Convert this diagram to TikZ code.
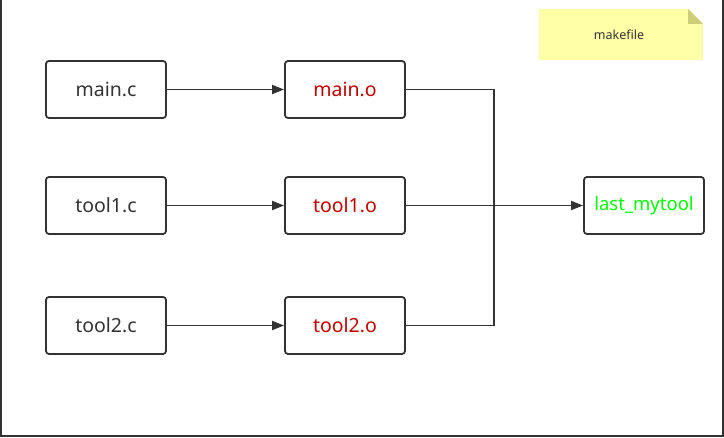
\documentclass[tikz,border=0pt]{standalone}
\usepackage{fontspec}
\setmainfont{Noto Sans}
\usepackage{xcolor}
\usetikzlibrary{arrows.meta,calc,positioning}
\definecolor{linegray}{HTML}{333333}
\definecolor{objred}{HTML}{C00000}
\definecolor{exegreen}{HTML}{00FF00}
\definecolor{notefill}{HTML}{FFFFA8}
\definecolor{notefold}{HTML}{CECE7A}

\begin{document}
\begin{tikzpicture}[
    x=1pt, y=-1pt,
    file/.style={
        draw=linegray, line width=1.8pt, rounded corners=3pt,
        minimum width=120pt, minimum height=57pt, inner sep=0,
        font=\fontsize{19.5}{22}\selectfont, text=linegray},
    obj/.style={file, text=objred},
    exe/.style={file, text=exegreen},
    flow/.style={draw=linegray, line width=1.8pt},
    arr/.style={flow, -{Triangle[length=12pt,width=9pt]}}]
\useasboundingbox (0,0) rectangle (724,438);
\path[draw=linegray, line width=2pt] (1,0) -- (1,436) -- (723,436) -- (723,0);

\node[file] (mainc)  at (106,89.5)  {main.c};
\node[file] (tool1c) at (106,205.5) {tool1.c};
\node[file] (tool2c) at (106,325.5) {tool2.c};
\node[obj]  (maino)  at (345,89.5)  {main.o};
\node[obj]  (tool1o) at (345,205.5) {tool1.o};
\node[obj]  (tool2o) at (345,325.5) {tool2.o};
\node[exe, font=\fontsize{18.5}{22}\selectfont] (last) at (644,205.5) {last\_mytool};

\path[fill=notefill] (539,9) -- (688,9) -- (703,24) -- (703,60) -- (539,60) -- cycle;
\path[fill=notefold] (688,9) -- (703,24) -- (688,24) -- cycle;
\node[font=\fontsize{12.5}{15}\selectfont, text=linegray] (note) at (619,35) {makefile};

\coordinate (bus) at (494,205.5);
\path[arr] (mainc)  -- (maino);
\path[arr] (tool1c) -- (tool1o);
\path[arr] (tool2c) -- (tool2o);
\path[flow] (maino.east) -| (bus);
\path[flow] (tool2o.east) -| (bus);
\path[arr] (tool1o) -- (last);

\end{tikzpicture}
\end{document}
